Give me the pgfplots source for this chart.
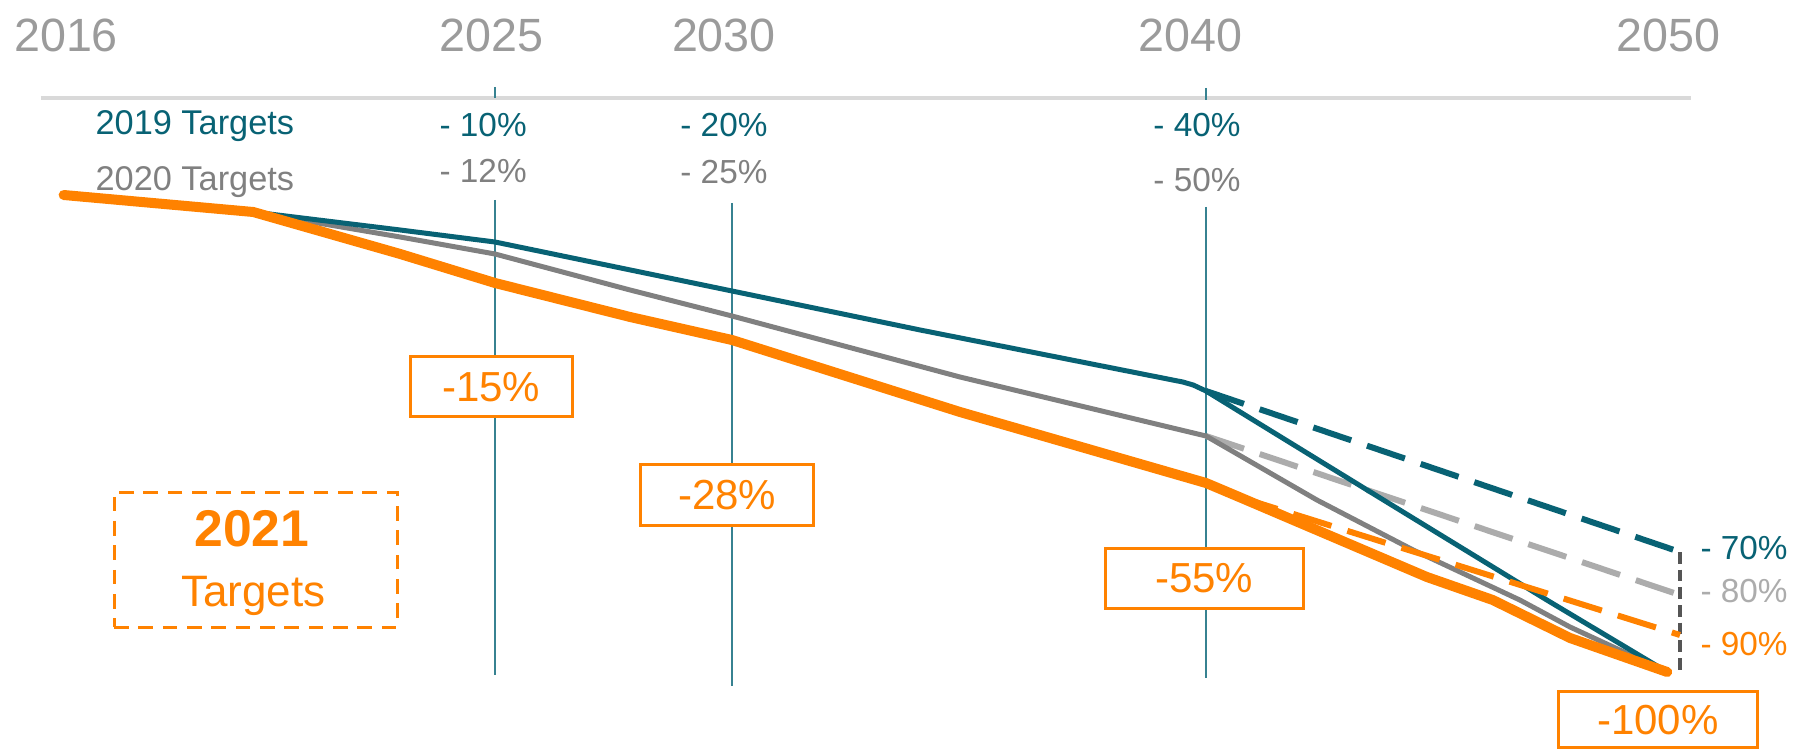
\documentclass[border=0pt]{standalone}
\usepackage{pgfplots}
\pgfplotsset{compat=1.18}
\usepackage{fontspec}
\setmainfont{Liberation Sans}
\definecolor{orng}{RGB}{255,130,0}
\definecolor{teal19}{RGB}{8,98,116}
\definecolor{gray20}{RGB}{128,128,128}
\definecolor{lgray}{RGB}{172,172,172}
\definecolor{vteal}{RGB}{55,130,145}
\definecolor{yeargray}{RGB}{155,155,155}
\definecolor{hline}{RGB}{217,217,217}
\definecolor{dgray}{RGB}{85,85,85}
\begin{document}
\begin{tikzpicture}
\begin{axis}[x=14.22pt, y=1.2pt,
  xmin=2014.557, xmax=2052.384, ymin=-19.5, ymax=168,
  hide axis, clip=false]
% reference lines
\draw[hline, line width=1.2pt] (axis cs:2015.42,143.5) -- (axis cs:2050.23,143.5);
\draw[vteal, line width=0.6pt] (axis cs:2025,146.25) -- (axis cs:2025,143.5);
\draw[vteal, line width=0.6pt] (axis cs:2040,146) -- (axis cs:2040,143);
\draw[vteal, line width=0.6pt] (axis cs:2025,118) -- (axis cs:2025,-0.75);
\draw[vteal, line width=0.6pt] (axis cs:2030,117.25) -- (axis cs:2030,-3.5);
\draw[vteal, line width=0.6pt] (axis cs:2040,116.25) -- (axis cs:2040,-1.5);
% dashed target extensions
\addplot[teal19, line width=1.8pt, dash pattern=on 12pt off 5pt] coordinates {(2040,70.25) (2050,30)};
\addplot[lgray, line width=1.8pt, dash pattern=on 12pt off 5pt] coordinates {(2040,59) (2050,19.25)};
\addplot[dgray, line width=1.4pt, dash pattern=on 3.5pt off 1.8pt] coordinates {(2050,30) (2050,-0.75)};
% 2020 targets
\addplot[gray20, line width=1.5pt, line join=round] coordinates {
(2019.9,115) (2023.0,108.75) (2025,104.5) (2027.85,95.5) (2030,89) (2034.81,73.75) (2040,59) (2042.34,43) (2044.37,30.5) (2046.62,18) (2047.68,11.25) (2049.73,0)};
% 2019 targets
\addplot[teal19, line width=1.5pt, line join=round] coordinates {
(2019.9,115) (2023.0,110.5) (2025,107.5) (2030,95.25) (2033.97,85.5) (2039.51,72.5) (2039.73,71.75) (2040,70.25) (2043.4,45.5) (2047.19,18) (2049.73,0)};
\addplot[orng, line width=1.8pt, dash pattern=on 12pt off 5pt] coordinates {(2040.7,43.75) (2050,9.25)};
% 2021 targets
\addplot[orng, line width=3pt, line join=round, line cap=round] coordinates {
(2015.9,119.25) (2019.9,115) (2023.0,104.5) (2025,97.25) (2027.85,88.75) (2030,83) (2034.81,65) (2040,47.25) (2040.7,43.75) (2042.68,33.75) (2044.66,23.75) (2046.05,18) (2047.68,8.5) (2049.73,0)};
% year labels
\begin{scope}[every node/.style={anchor=base, text=yeargray, font=\fontsize{14}{16}\selectfont}]
\node at (axis cs:2015.95,155.1) {2016};
\node at (axis cs:2024.92,155.1) {2025};
\node at (axis cs:2029.83,155.1) {2030};
\node at (axis cs:2039.68,155.1) {2040};
\node at (axis cs:2049.75,155.1) {2050};
\end{scope}
% top labels
\begin{scope}[every node/.style={anchor=base, font=\fontsize{10}{12}\selectfont}]
\node[text=teal19] at (axis cs:2024.75,133.75) {- 10\%};
\node[text=gray20] at (axis cs:2024.75,122.25) {- 12\%};
\node[text=teal19] at (axis cs:2029.83,133.75) {- 20\%};
\node[text=gray20] at (axis cs:2029.83,122) {- 25\%};
\node[text=teal19] at (axis cs:2039.81,133.75) {- 40\%};
\node[text=gray20] at (axis cs:2039.81,120) {- 50\%};
\end{scope}
\begin{scope}[every node/.style={anchor=base west, inner sep=0pt, font=\fontsize{10.3}{12}\selectfont}]
\node[text=teal19] at (axis cs:2016.56,134.25) {2019 Targets};
\node[text=gray20] at (axis cs:2016.56,120.3) {2020 Targets};
\end{scope}
% right labels
\begin{scope}[every node/.style={anchor=base west, inner sep=0pt, font=\fontsize{10}{12}\selectfont}]
\node[text=teal19] at (axis cs:2050.42,28) {- 70\%};
\node[text=lgray] at (axis cs:2050.42,17.25) {- 80\%};
\node[text=orng] at (axis cs:2050.42,4.25) {- 90\%};
\end{scope}
% boxes
\begin{scope}[every node/.style={draw=orng, line width=0.9pt, fill=white, inner sep=0pt, minimum height=18pt, text=orng, font=\fontsize{12.6}{14}\selectfont}]
\node[minimum width=48.6pt] at (axis cs:2024.92,71.25) {-15\%};
\node[minimum width=51.9pt] at (axis cs:2029.9,44.25) {-28\%};
\node[minimum width=59.4pt] at (axis cs:2039.96,23.5) {-55\%};
\node[minimum width=59.7pt, minimum height=17pt] at (axis cs:2049.53,-11.9) {-100\%};
\end{scope}
\node[draw=orng, line width=0.9pt, dash pattern=on 4.4pt off 2.9pt, minimum width=84.9pt, minimum height=40.5pt, inner sep=0pt] at (axis cs:2019.95,28.1) {};
\node[anchor=base, text=orng, font=\fontsize{15.5}{18}\selectfont\bfseries] at (axis cs:2019.87,31.3) {2021};
\node[anchor=base, text=orng, font=\fontsize{13.2}{16}\selectfont] at (axis cs:2019.9,16.3) {Targets};
\path (rel axis cs:0,0) coordinate (BL) (rel axis cs:1,1) coordinate (TR);
\end{axis}
\pgfresetboundingbox
\path (BL) rectangle (TR);
\end{tikzpicture}
\end{document}
